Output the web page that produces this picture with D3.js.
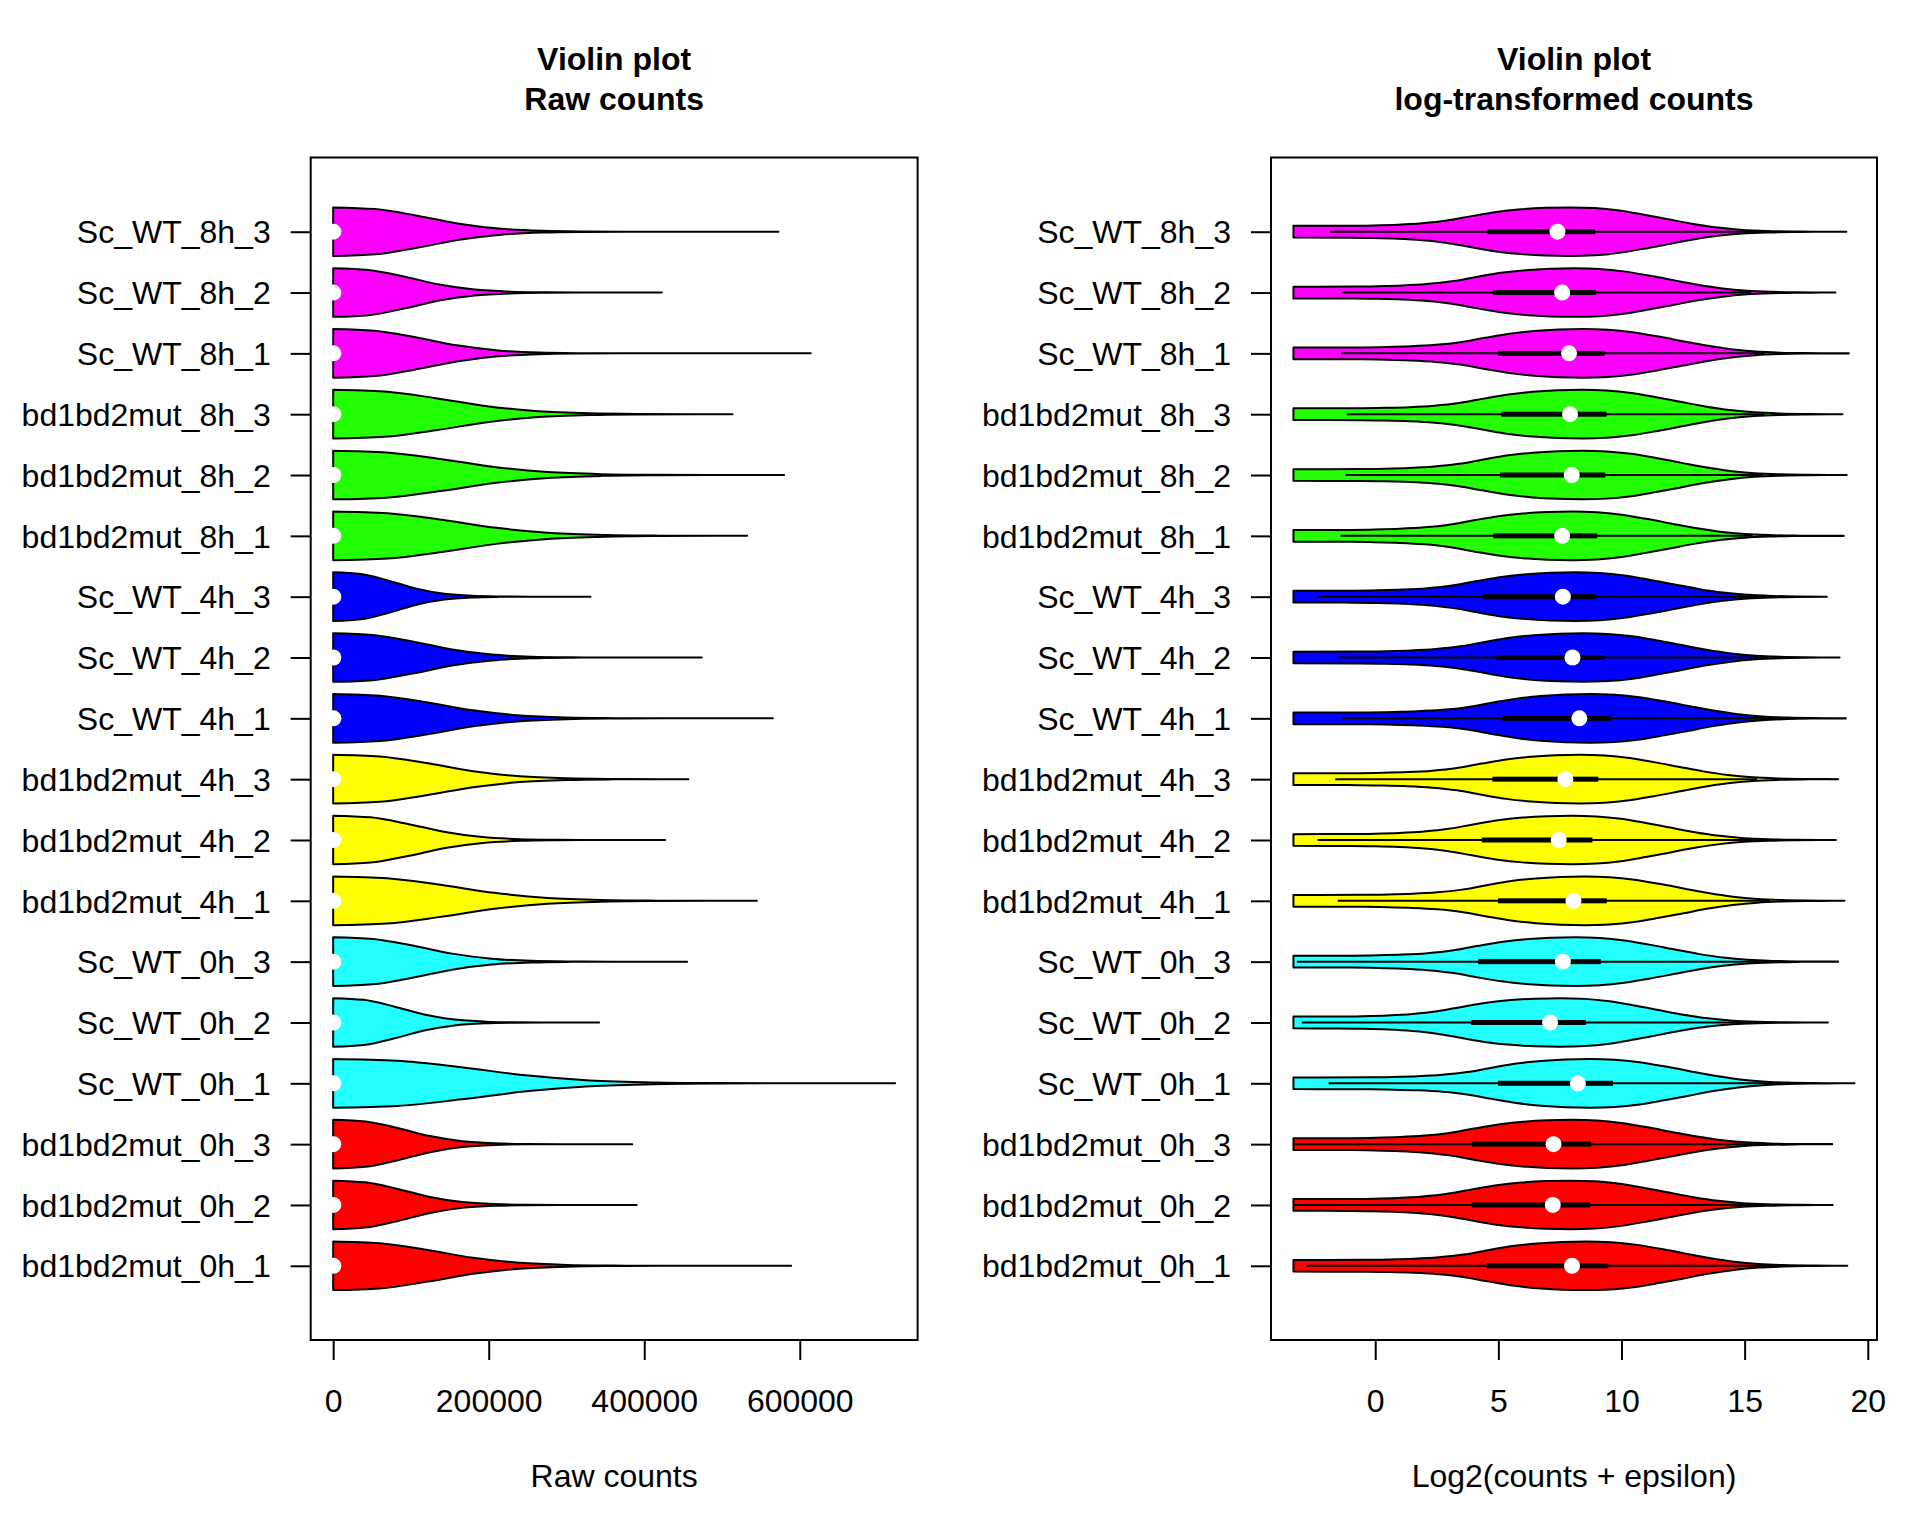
<!DOCTYPE html>
<html><head><meta charset="utf-8">
<script src="https://cdn.jsdelivr.net/npm/d3@7"></script>
<style>body{margin:0;background:#fff} text{font-family:"Liberation Sans",Arial,Helvetica,sans-serif}</style>
</head><body><svg id="c" width="1920" height="1536"></svg>
<script>
// ---- data (ordered bottom -> top) ----
const samples = ["bd1bd2mut_0h_1","bd1bd2mut_0h_2","bd1bd2mut_0h_3","Sc_WT_0h_1","Sc_WT_0h_2","Sc_WT_0h_3",
  "bd1bd2mut_4h_1","bd1bd2mut_4h_2","bd1bd2mut_4h_3","Sc_WT_4h_1","Sc_WT_4h_2","Sc_WT_4h_3",
  "bd1bd2mut_8h_1","bd1bd2mut_8h_2","bd1bd2mut_8h_3","Sc_WT_8h_1","Sc_WT_8h_2","Sc_WT_8h_3"];
const sampleColors = ["#FF0000","#FF0000","#FF0000","#22FFFF","#22FFFF","#22FFFF",
  "#FFFF00","#FFFF00","#FFFF00","#0000FF","#0000FF","#0000FF",
  "#22FF00","#22FF00","#22FF00","#FF00FF","#FF00FF","#FF00FF"];
// raw counts
const rawMin = [0,0,0,0,0,0,0,0,0,0,0,0,0,0,0,0,0,0];
const rawMax = [589000,390300,384600,722600,341900,455100,544800,426800,456800,565300,474000,330900,532300,579800,513500,614100,422700,572500];
const rawMedian = [254,148,151,300,137,197,265,175,211,313,258,197,193,252,240,234,193,169];
const rawSpread = [120000,83000,83000,165000,78000,102000,138000,96000,120000,120000,102000,71500,140000,138000,132000,106000,91000,108000];
// shared raw density profile: offset (in spread units) -> relative half-width
const rawProfileT = [0,0.5,1.0,1.5,2.0,2.5,3.0,3.5];
const rawProfileF = [1.0,0.93,0.66,0.33,0.12,0.035,0.008,0];
// log2 counts
const logMin = [-3.32,-3.32,-3.32,-3.32,-3.32,-3.32,-3.32,-3.32,-3.32,-3.32,-3.32,-3.32,-3.32,-3.32,-3.32,-3.32,-3.32,-3.32];
const logMax = [19.168,18.574,18.553,19.463,18.383,18.796,19.055,18.703,18.801,19.109,18.855,18.336,19.022,19.145,18.970,19.228,18.689,19.127];
const logWhiskLo = [-2.79,-3.32,-3.32,-1.89,-2.98,-3.18,-1.52,-2.34,-1.62,-1.35,-1.49,-2.30,-1.41,-1.20,-1.14,-1.38,-1.35,-1.83];
const logQ1 = [4.53,3.92,3.92,4.99,3.90,4.18,4.99,4.33,4.76,5.17,4.91,4.40,4.80,5.07,5.12,4.99,4.78,4.56];
const logMedian = [7.99,7.21,7.24,8.23,7.10,7.62,8.05,7.45,7.72,8.29,8.01,7.62,7.59,7.98,7.91,7.87,7.59,7.40];
const logQ3 = [9.46,8.73,8.77,9.65,8.56,9.16,9.40,8.82,9.06,9.56,9.27,8.93,9.01,9.34,9.39,9.31,8.97,8.93];
const logWhiskHi = [16.86,15.95,16.05,16.64,15.55,16.63,16.02,15.56,15.51,16.15,15.81,15.73,15.33,15.75,15.80,15.79,15.26,15.49];
const logPeak = [8.57,7.93,8.0,8.73,7.51,8.12,8.52,7.98,8.32,8.73,8.45,8.12,8.0,8.4,8.4,8.45,8.1,7.91];
// shared log density profile: offset from peak -> relative half-width
const logProfileD = [-14,-9,-8,-7,-6,-5,-4,-3,-2,-1,0,1,2,3,4,5,6,7,8,9,10,12];
const logProfileF = [0.235,0.245,0.26,0.29,0.35,0.46,0.64,0.81,0.92,0.98,1.0,0.97,0.87,0.70,0.51,0.32,0.17,0.075,0.03,0.01,0.002,0];
const xTicksRaw = [0,200000,400000,600000];
const xTicksLog = [0,5,10,15,20];

// ---- layout ----
const svg = d3.select("#c");
svg.append("rect").attr("width",1920).attr("height",1536).attr("fill","#fff");
const FONT = 32;
const n = samples.length;
const yExt = 0.04*n;
const y = d3.scaleLinear().domain([0.5-yExt, n+0.5+yExt]).range([1340, 157.5]);
const unitPx = Math.abs(y(1)-y(0));
const wex = 0.4; // max half-width in group units

function interp(xs, fs, v){
  if (v <= xs[0]) return fs[0];
  if (v >= xs[xs.length-1]) return fs[fs.length-1];
  const i = d3.bisectRight(xs, v) - 1;
  const t = (v - xs[i])/(xs[i+1]-xs[i]);
  return fs[i] + t*(fs[i+1]-fs[i]);
}

function panel(opts){
  const {x0,x1,lo,hi,title2,xlab,ticks,fmt} = opts;
  const ext = 0.04*(hi-lo);
  const x = d3.scaleLinear().domain([lo-ext, hi+ext]).range([x0,x1]);
  const g = svg.append("g");
  const area = d3.area().curve(d3.curveMonotoneX)
      .x(d=>x(d.v)).y0(d=>d.c - d.h).y1(d=>d.c + d.h);
  for (let i=0;i<n;i++){
    const pts = opts.knots(i);
    const c = y(i+1);
    const data = pts.map(p=>({v:p[0], h:p[1]*wex*unitPx, c}));
    g.append("path").attr("d", area(data))
      .attr("fill", sampleColors[i]).attr("stroke","#000").attr("stroke-width",2).attr("stroke-linejoin","round");
    if (opts.box){
      const b = opts.box(i);
      g.append("line").attr("x1",x(b.wl)).attr("x2",x(b.wh)).attr("y1",c).attr("y2",c)
        .attr("stroke","#000").attr("stroke-width",2);
      g.append("rect").attr("x",x(b.q1)).attr("width",x(b.q3)-x(b.q1)).attr("y",c-2.5).attr("height",5).attr("fill","#000");
    }
    g.append("circle").attr("cx",x(opts.med(i))).attr("cy",c).attr("r",8).attr("fill","#fff");
  }
  // frame
  svg.append("rect").attr("x",x0).attr("y",y.range()[1]).attr("width",x1-x0).attr("height",y.range()[0]-y.range()[1])
    .attr("fill","none").attr("stroke","#000").attr("stroke-width",2);
  // x axis
  const ax = svg.append("g").attr("transform",`translate(0,${y.range()[0]})`)
    .call(d3.axisBottom(x).tickValues(ticks).tickFormat(fmt).tickSize(20).tickPadding(30));
  ax.select(".domain").remove();
  ax.selectAll("line").attr("stroke","#000").attr("stroke-width",2);
  ax.selectAll("text").attr("font-size",FONT).attr("fill","#000").attr("font-family",null).attr("dy",null).attr("y",72);
  // y axis
  const ay = svg.append("g").attr("transform",`translate(${x0},0)`)
    .call(d3.axisLeft(y).tickValues(d3.range(1,n+1)).tickFormat(k=>samples[k-1]).tickSize(20).tickPadding(20));
  ay.select(".domain").remove();
  ay.selectAll("line").attr("stroke","#000").attr("stroke-width",2);
  ay.selectAll("text").attr("font-size",FONT).attr("fill","#000").attr("font-family",null).attr("dy","0.35em");
  ax.attr("font-family",null); ay.attr("font-family",null);
  // titles
  const cx = (x0+x1)/2;
  svg.append("text").attr("x",cx).attr("y",70).attr("text-anchor","middle").attr("font-size",FONT).attr("font-weight","bold").text("Violin plot");
  svg.append("text").attr("x",cx).attr("y",110).attr("text-anchor","middle").attr("font-size",FONT).attr("font-weight","bold").text(title2);
  svg.append("text").attr("x",cx).attr("y",1487).attr("text-anchor","middle").attr("font-size",FONT).text(xlab);
}

panel({
  x0:310.7, x1:917.6, lo:d3.min(rawMin), hi:d3.max(rawMax),
  title2:"Raw counts", xlab:"Raw counts", ticks:xTicksRaw, fmt:d3.format("d"),
  knots:i=>{
    const s = rawSpread[i], pts=[[rawMin[i],interp(rawProfileT,rawProfileF,0)]];
    rawProfileT.forEach((t,k)=>{ const v=rawMin[i]+t*s; if(v>rawMin[i] && v<rawMax[i]) pts.push([v,rawProfileF[k]]); });
    pts.push([rawMax[i], interp(rawProfileT,rawProfileF,(rawMax[i]-rawMin[i])/s)]);
    return pts;
  },
  med:i=>rawMedian[i]
});

panel({
  x0:1271, x1:1877, lo:d3.min(logMin), hi:d3.max(logMax),
  title2:"log-transformed counts", xlab:"Log2(counts + epsilon)", ticks:xTicksLog, fmt:d3.format("d"),
  knots:i=>{
    const p = logPeak[i], pts=[[logMin[i],interp(logProfileD,logProfileF,logMin[i]-p)]];
    logProfileD.forEach((d,k)=>{ const v=p+d; if(v>logMin[i] && v<logMax[i]) pts.push([v,logProfileF[k]]); });
    pts.push([logMax[i], interp(logProfileD,logProfileF,logMax[i]-p)]);
    return pts;
  },
  box:i=>({wl:logWhiskLo[i], wh:logWhiskHi[i], q1:logQ1[i], q3:logQ3[i]}),
  med:i=>logMedian[i]
});
</script></body></html>
